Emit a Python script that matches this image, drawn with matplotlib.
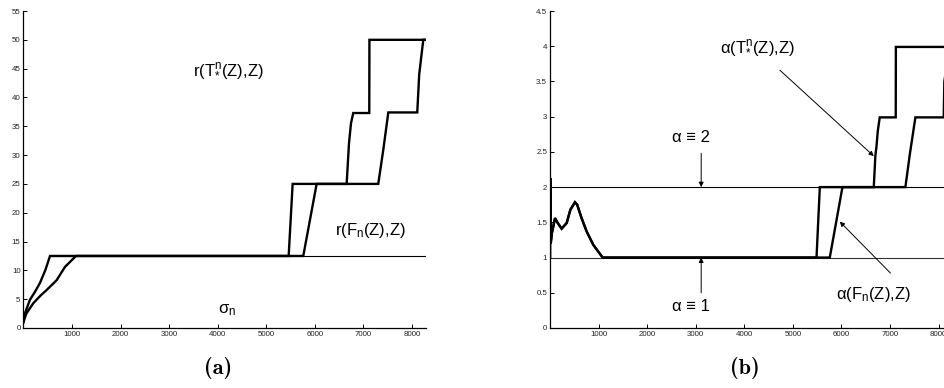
import matplotlib
matplotlib.use("Agg")
import matplotlib.pyplot as plt

plt.rcParams['font.family'] = ['Liberation Sans', 'DejaVu Sans']
plt.rcParams['mathtext.fontset'] = 'custom'
plt.rcParams['mathtext.rm'] = 'Liberation Sans'
plt.rcParams['mathtext.it'] = 'Liberation Sans'
plt.rcParams['mathtext.bf'] = 'Liberation Sans:bold'

# ---------- data: panel (a) ----------
r_T_x = [0, 30, 135, 240, 340, 450, 548, 5462, 5544, 6656, 6704, 6745, 6792, 7122, 7125, 8290]
r_T_y = [1, 2.5, 4.9, 6.3, 7.8, 10.0, 12.5, 12.5, 25.0, 25.0, 32.0, 35.5, 37.3, 37.3, 50.0, 50.0]

r_F_x = [0, 60, 204, 350, 480, 685, 856, 1083, 5763, 6038, 7307, 7410, 7514, 8110, 8150, 8234, 8290]
r_F_y = [1, 2.5, 4.3, 5.6, 6.6, 8.3, 10.6, 12.5, 12.5, 25.0, 25.0, 30.9, 37.4, 37.4, 44.0, 50.0, 50.0]

sigma_x = [548, 8290]
sigma_y = [12.5, 12.5]

# ---------- data: panel (b) ----------
early_x = [0, 5, 15, 40, 103, 150, 240, 343, 420, 514, 560, 650, 755, 892, 1084]
early_y = [1.0, 2.13, 1.2, 1.35, 1.56, 1.5, 1.41, 1.49, 1.68, 1.785, 1.75, 1.56, 1.37, 1.18, 1.0]

a_T_x = early_x + [5488, 5556, 6667, 6700, 6722, 6750, 6790, 7119, 7122, 8290]
a_T_y = early_y + [1.0, 2.0, 2.0, 2.45, 2.57, 2.8, 2.99, 2.99, 3.99, 3.99]

a_F_x = early_x + [5761, 6022, 7318, 7410, 7524, 8107, 8120, 8234, 8290]
a_F_y = early_y + [1.0, 2.0, 2.0, 2.47, 2.99, 2.99, 3.5, 4.0, 4.0]

xmax = 8290
xticks = [1000, 2000, 3000, 4000, 5000, 6000, 7000, 8000]
yticks_a = [0, 5, 10, 15, 20, 25, 30, 35, 40, 45, 50, 55]
yticks_b = [0, 0.5, 1, 1.5, 2, 2.5, 3, 3.5, 4, 4.5]
yticklabels_b = ['0', '0.5', '1', '1.5', '2', '2.5', '3', '3.5', '4', '4.5']

W, H = 945, 388
fig = plt.figure(figsize=(W / 100, H / 100), dpi=100)

def px_axes(x0, x1, y_top, y_bot):
    return fig.add_axes([x0 / W, (H - y_bot) / H, (x1 - x0) / W, (y_bot - y_top) / H])

axA = px_axes(23.4, 426, 11, 328)
axB = px_axes(550, 952.6, 11, 328)

for ax in (axA, axB):
    for s in ('top', 'right'):
        ax.spines[s].set_visible(False)
    for s in ('left', 'bottom'):
        ax.spines[s].set_linewidth(0.9)
    ax.tick_params(direction='in', length=3, width=0.7, labelsize=5.7,
                   labelcolor='#222222', pad=2)
    ax.set_xlim(0, xmax)
    ax.set_xticks(xticks)
    ax.set_xticklabels([str(t) for t in xticks])

# panel (a)
axA.set_ylim(0, 55)
axA.set_yticks(yticks_a)
axA.set_yticklabels([str(t) for t in yticks_a])
axA.plot(sigma_x, sigma_y, color='k', lw=0.8)
axA.plot(r_T_x, r_T_y, color='k', lw=1.7, solid_joinstyle='miter')
axA.plot(r_F_x, r_F_y, color='k', lw=1.7, solid_joinstyle='miter')
axA.text(3492, 43.9, r'r(T$^{n}_{*}$(Z),Z)', fontsize=12, ha='left', va='baseline')
axA.text(6416, 16.1, r'r(F$_{n}$(Z),Z)', fontsize=12, ha='left', va='baseline')
axA.text(4007, 2.55, r'σ$_{n}$', fontsize=12, ha='left', va='baseline')

# panel (b)
axB.set_ylim(0, 4.5)
axB.set_yticks(yticks_b)
axB.set_yticklabels(yticklabels_b)
axB.axhline(1, color='#333333', lw=0.8)
axB.axhline(2, color='k', lw=0.8)
axB.plot(a_T_x, a_T_y, color='k', lw=1.7, solid_joinstyle='miter')
axB.plot(a_F_x, a_F_y, color='k', lw=1.7, solid_joinstyle='miter')

arrow = dict(arrowstyle='-|>', lw=0.7, color='k', mutation_scale=7, shrinkA=0, shrinkB=0)
axB.annotate('', xy=(3113, 2.0), xytext=(3113, 2.48), arrowprops=arrow)
axB.annotate('', xy=(3113, 1.0), xytext=(3113, 0.5), arrowprops=arrow)
axB.annotate('', xy=(6667, 2.44), xytext=(4733, 3.66), arrowprops=arrow)
axB.annotate('', xy=(5967, 1.51), xytext=(7010, 0.78), arrowprops=arrow)
axB.text(3498, 3.92, r'α(T$^{n}_{*}$(Z),Z)', fontsize=12, ha='left', va='baseline')
axB.text(2504, 2.645, 'α ≡ 2', fontsize=12, ha='left', va='baseline')
axB.text(2504, 0.24, 'α ≡ 1', fontsize=12, ha='left', va='baseline')
axB.text(5899, 0.41, r'α(F$_{n}$(Z),Z)', fontsize=12, ha='left', va='baseline')

fig.text(218 / W, (H - 368) / H, '(a)', family='cmb10', fontsize=16, ha='center', va='center')
fig.text(745 / W, (H - 368) / H, '(b)', family='cmb10', fontsize=16, ha='center', va='center')

fig.savefig('out.png', dpi=100)
